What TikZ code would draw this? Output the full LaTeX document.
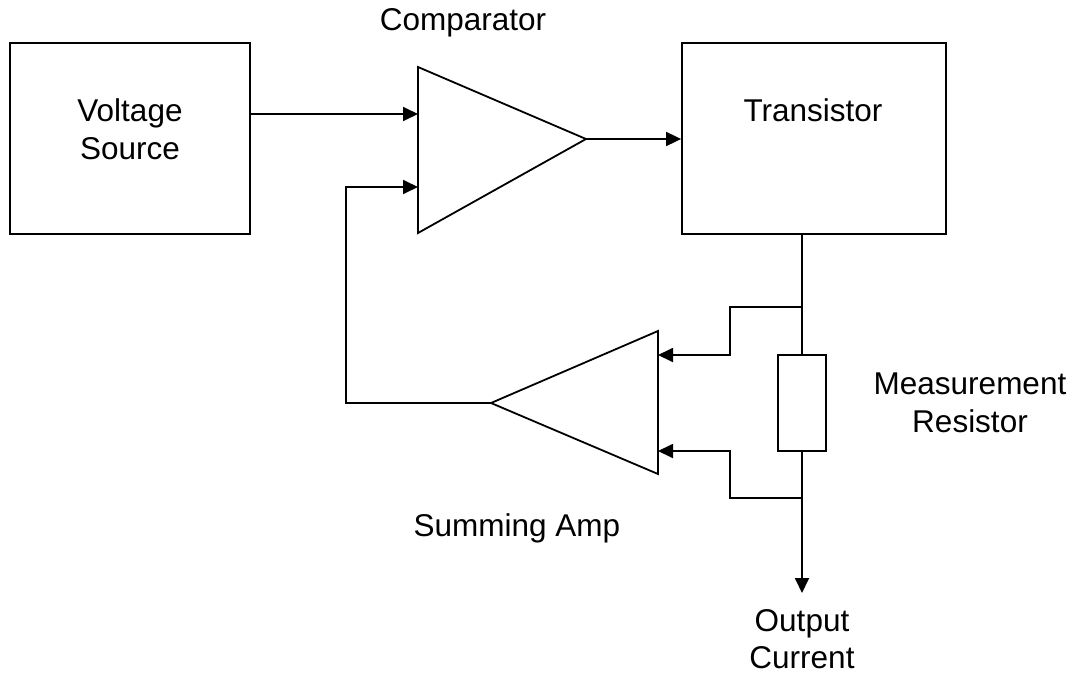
\documentclass[tikz,border=0pt]{standalone}
\usepackage{fontspec}
\setmainfont{Liberation Sans}
\usetikzlibrary{arrows.meta}
\begin{document}
\begin{tikzpicture}[x=1pt,y=-1pt,
  wire/.style={line width=1.8pt,line cap=rect,line join=miter},
  arr/.style={wire,-{Triangle[length=15pt,width=14pt]}},
  blk/.style={draw,line width=1.8pt,inner sep=0pt},
  lbl/.style={font=\fontsize{31.5}{37.5}\selectfont,align=center,inner sep=0pt}]
\useasboundingbox (0,0) rectangle (1074,675);
% blocks
\node[blk,minimum width=240pt,minimum height=191pt] (vs) at (130,138.5) {};
\node[lbl] (vst) at (130,129) {Voltage\\Source};
\node[blk,minimum width=264pt,minimum height=191pt] (tr) at (814,138.5) {};
\node[lbl] (trt) at (813,110) {Transistor};
\node[blk,minimum width=48pt,minimum height=96pt] (res) at (802,403) {};
% comparator
\coordinate (ct) at (418,67);
\coordinate (cb) at (418,233);
\coordinate (co) at (586,139);
\draw[wire] (ct) -- (co) -- (cb) -- cycle;
\coordinate (ci1) at (418,114);
\coordinate (ci2) at (418,187);
% summing amp
\coordinate (st) at (658,331);
\coordinate (sb) at (658,474);
\coordinate (so) at (491,403);
\draw[wire] (st) -- (so) -- (sb) -- cycle;
\coordinate (si1) at (658,355);
\coordinate (si2) at (658,451);
% connectors
\draw[arr] (vs.east |- ci1) -- (ci1);
\draw[arr] (co) -- (tr.west |- co);
\coordinate (fb) at (346,403);
\draw[arr] (so) -- (fb) |- (ci2);
\coordinate (tb) at (802,234);
\coordinate (j1) at (802,307);
\coordinate (j2) at (802,498);
\coordinate (out) at (802,593);
\draw[wire] (tb) -- (res.north);
\draw[arr] (res.south) -- (out);
\coordinate (b1) at (730,307);
\coordinate (b2) at (730,498);
\draw[arr] (j1) -- (b1) |- (si1);
\draw[arr] (j2) -- (b2) |- (si2);
% labels
\node[lbl] (cmp) at (463,23) {Comparator};
\node[lbl] (mr) at (970,403) {Measurement\\Resistor};
\node[lbl] (sa) at (517,528) {Summing Amp};
\node[lbl] (oc) at (802,639) {Output\\Current};
\end{tikzpicture}
\end{document}
